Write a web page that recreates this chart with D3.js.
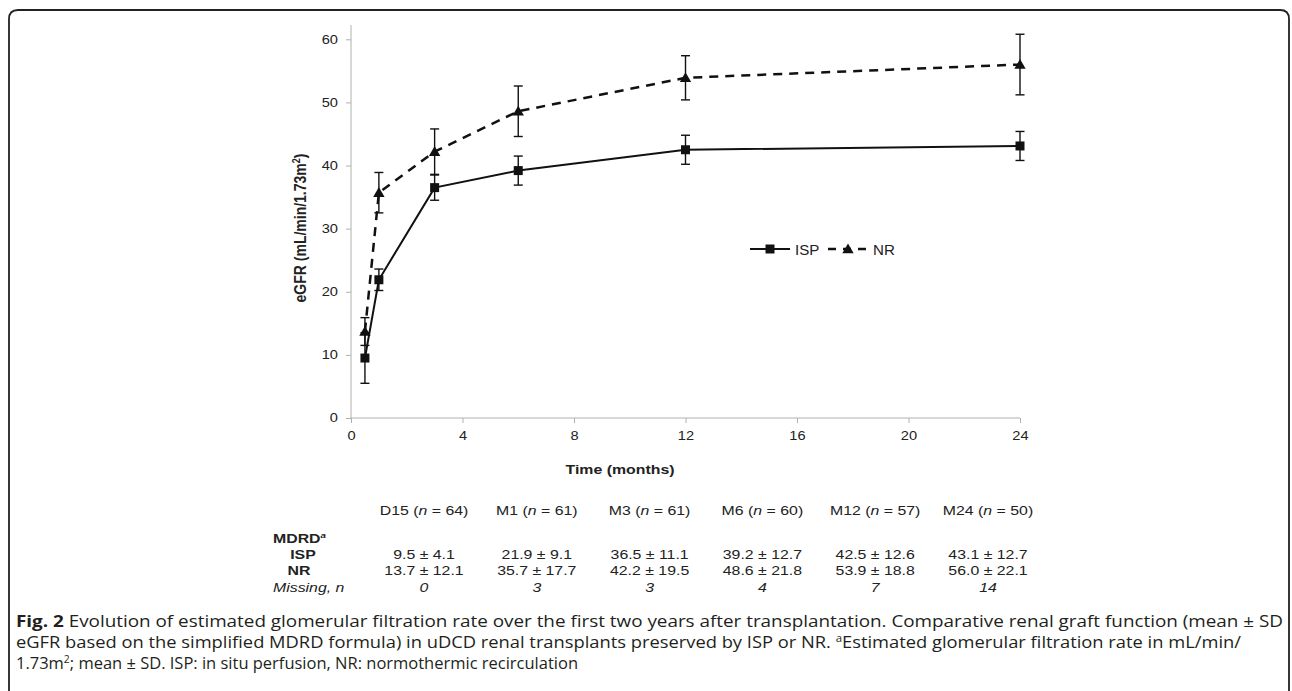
<!DOCTYPE html>
<html>
<head>
<meta charset="utf-8">
<script src="https://cdn.jsdelivr.net/npm/d3@7"></script>
<style>
  body { margin: 0; background: #fff; }
  svg { display: block; }
</style>
</head>
<body>
<svg id="chart"></svg>
<script>
// time points (months) and table headers
const timePoints = [0.5, 1, 3, 6, 12, 24];
const tpLabels = ["D15", "M1", "M3", "M6", "M12", "M24"];
const tpN = [64, 61, 61, 60, 57, 50];

// mean eGFR and error bars
const ispMean = [9.5, 21.9, 36.5, 39.2, 42.5, 43.1];
const ispErr = [4.0, 1.7, 2.0, 2.3, 2.3, 2.3];
const nrMean = [13.7, 35.7, 42.2, 48.6, 53.9, 56.0];
const nrErr = [2.2, 3.2, 3.6, 4.0, 3.5, 4.8];

// table values
const ispSD = [4.1, 9.1, 11.1, 12.7, 12.6, 12.7];
const nrSD = [12.1, 17.7, 19.5, 21.8, 18.8, 22.1];
const missing = [0, 3, 3, 4, 7, 14];

const xTicks = [0, 4, 8, 12, 16, 20, 24];
const yTicks = [0, 10, 20, 30, 40, 50, 60];

const W = 1292, H = 691;
const font = '"Liberation Sans", Arial, sans-serif';
const axisGrey = "#b0b0b0";
const SX = 1.22; // lettering in the figure is a little wide

const svg = d3.select("#chart").attr("width", W).attr("height", H);

// stretched text helper
function sText(parent, x, y) {
  return parent.append("text").attr("transform", `translate(${x},${y}) scale(${SX},1)`);
}

// frame
svg.append("path")
  .attr("d", "M9,691 L9,19 Q9,10 18,10 L1280,10 Q1289,10 1289,19 L1289,691")
  .attr("fill", "none").attr("stroke", "#222").attr("stroke-width", 1.8);

const x = d3.scaleLinear().domain([0, 24]).range([351, 1020]);
const y = d3.scaleLinear().domain([0, 60]).range([418, 39.3]);

// y axis
const yAxis = svg.append("g")
  .attr("transform", "translate(351,0)")
  .call(d3.axisLeft(y).tickValues(yTicks).tickSize(5).tickPadding(8));
yAxis.select(".domain").remove();
yAxis.append("line").attr("x1", 0).attr("x2", 0).attr("y1", 25).attr("y2", 418)
  .attr("stroke", axisGrey);
yAxis.selectAll(".tick line").attr("stroke", axisGrey);
yAxis.selectAll(".tick text")
  .attr("fill", "#222").style("font-family", font).style("font-size", "12px")
  .attr("x", -13 / SX).attr("transform", `scale(${SX},1)`);

// x axis
const xAxis = svg.append("g")
  .attr("transform", "translate(0,418)")
  .call(d3.axisBottom(x).tickValues(xTicks).tickSize(5).tickPadding(8));
xAxis.select(".domain").attr("stroke", axisGrey).attr("d", "M351,0H1020");
xAxis.selectAll(".tick line").attr("stroke", axisGrey);
xAxis.selectAll(".tick text")
  .attr("fill", "#222").style("font-family", font).style("font-size", "12px")
  .attr("transform", `scale(${SX},1)`);

// axis titles
svg.append("text")
  .attr("transform", `translate(306,228) scale(${SX},1) rotate(-90)`)
  .attr("text-anchor", "middle")
  .style("font-family", font).style("font-size", "14px").style("font-weight", "bold")
  .attr("fill", "#222")
  .html('eGFR (mL/min/1.73m<tspan dy="-5" font-size="9px">2</tspan><tspan dy="5">)</tspan>');

sText(svg, 620, 474)
  .attr("text-anchor", "middle")
  .style("font-family", font).style("font-size", "13px").style("font-weight", "bold")
  .attr("fill", "#222")
  .text("Time (months)");

// series
const series = [
  { name: "ISP", mean: ispMean, err: ispErr, dash: null, symbol: d3.symbolSquare, size: 81 },
  { name: "NR", mean: nrMean, err: nrErr, dash: "9,7", symbol: d3.symbolTriangle, size: 56 }
];

const line = d3.line().x(d => x(d[0])).y(d => y(d[1]));

series.forEach(s => {
  const pts = timePoints.map((t, i) => [t, s.mean[i], s.err[i]]);
  const g = svg.append("g");
  // error bars
  const eb = g.selectAll(".eb").data(pts).enter().append("g");
  eb.append("line")
    .attr("x1", d => x(d[0])).attr("x2", d => x(d[0]))
    .attr("y1", d => y(d[1] - d[2])).attr("y2", d => y(d[1] + d[2]))
    .attr("stroke", "#111").attr("stroke-width", 1.4);
  [-1, 1].forEach(sgn => {
    eb.append("line")
      .attr("x1", d => x(d[0]) - 4.5).attr("x2", d => x(d[0]) + 4.5)
      .attr("y1", d => y(d[1] + sgn * d[2])).attr("y2", d => y(d[1] + sgn * d[2]))
      .attr("stroke", "#111").attr("stroke-width", 1.4);
  });
  g.append("path")
    .datum(pts)
    .attr("d", line)
    .attr("fill", "none").attr("stroke", "#111")
    .attr("stroke-width", s.dash ? 2.5 : 2)
    .attr("stroke-dasharray", s.dash);
  g.selectAll(".pt").data(pts).enter().append("path")
    .attr("transform", d => `translate(${x(d[0])},${y(d[1]) + (s.name === "NR" ? 1 : 0)})`)
    .attr("d", d3.symbol().type(s.symbol).size(s.size))
    .attr("fill", "#111");
});

// legend
const lg = svg.append("g").attr("transform", "translate(750,249)");
lg.append("line").attr("x1", 0).attr("x2", 40).attr("stroke", "#111").attr("stroke-width", 2);
lg.append("path").attr("transform", "translate(20,0)")
  .attr("d", d3.symbol().type(d3.symbolSquare).size(81)).attr("fill", "#111");
lg.append("text").attr("transform", "translate(45,5.5) scale(1.08,1)")
  .style("font-family", font).style("font-size", "14px").attr("fill", "#222").text("ISP");
lg.append("line").attr("x1", 78).attr("x2", 118).attr("stroke", "#111")
  .attr("stroke-width", 2.5).attr("stroke-dasharray", "8,7");
lg.append("path").attr("transform", "translate(98,1)")
  .attr("d", d3.symbol().type(d3.symbolTriangle).size(56)).attr("fill", "#111");
lg.append("text").attr("transform", "translate(123,5.5) scale(1.08,1)")
  .style("font-family", font).style("font-size", "14px").attr("fill", "#222").text("NR");

// table under the chart
const col = d3.scalePoint().domain(tpLabels).range([424, 988]);
const tbl = svg.append("g")
  .style("font-family", font).style("font-size", "13px").attr("fill", "#222");

tpLabels.forEach((d, i) => {
  sText(tbl, col(d), 515).attr("text-anchor", "middle")
    .html(`${d} (<tspan font-style="italic">n</tspan> = ${tpN[i]})`);
  sText(tbl, col(d), 558.5).attr("text-anchor", "middle")
    .text(`${ispMean[i].toFixed(1)} ± ${ispSD[i].toFixed(1)}`);
  sText(tbl, col(d), 575).attr("text-anchor", "middle")
    .text(`${nrMean[i].toFixed(1)} ± ${nrSD[i].toFixed(1)}`);
  sText(tbl, col(d), 592).attr("text-anchor", "middle")
    .style("font-style", "italic").text(missing[i]);
});

sText(tbl, 273, 543).style("font-weight", "bold")
  .html('MDRD<tspan dy="-5" font-size="8px" font-style="italic">a</tspan>');
sText(tbl, 303, 558.5).attr("text-anchor", "middle").style("font-weight", "bold").text("ISP");
sText(tbl, 299, 575).attr("text-anchor", "middle").style("font-weight", "bold").text("NR");
sText(tbl, 273, 592).style("font-style", "italic").text("Missing, n");

// caption, each line fitted to its width in the reference
const capLines = [
  { y: 627, end: 1283, html: '<tspan font-weight="bold">Fig. 2</tspan> Evolution of estimated glomerular filtration rate over the first two years after transplantation. Comparative renal graft function (mean ± SD' },
  { y: 648, end: 1241, html: 'eGFR based on the simplified MDRD formula) in uDCD renal transplants preserved by ISP or NR. <tspan dy="-6" font-size="10px">a</tspan><tspan dy="6">Estimated glomerular filtration rate in mL/min/</tspan>' },
  { y: 669, end: 578, html: '1.73m<tspan dy="-6" font-size="10px">2</tspan><tspan dy="6">; mean ± SD. ISP: in situ perfusion, NR: normothermic recirculation</tspan>' }
];
const cap = svg.append("g")
  .style("font-family", '"Open Sans", sans-serif')
  .style("font-size", "16px").attr("fill", "#231f20");
capLines.forEach(l => {
  cap.append("text")
    .attr("x", 16).attr("y", l.y)
    .attr("textLength", l.end - 16)
    .attr("lengthAdjust", "spacingAndGlyphs")
    .html(l.html);
});
</script>
</body>
</html>
